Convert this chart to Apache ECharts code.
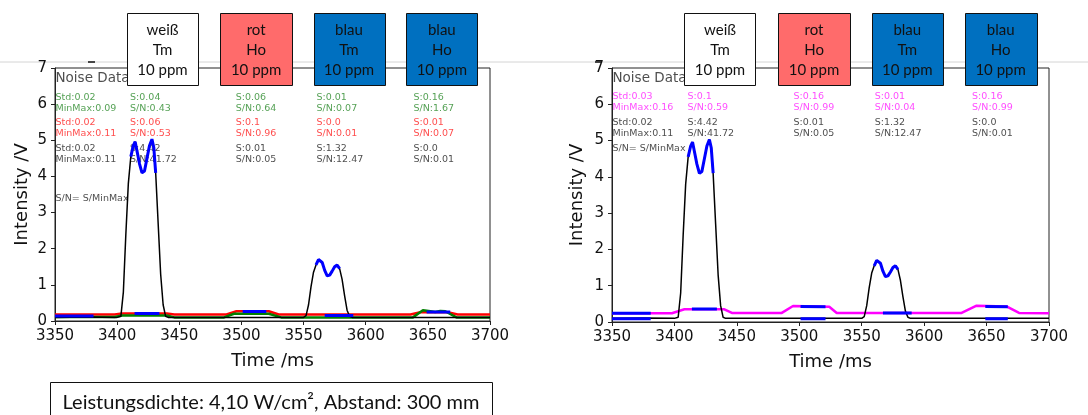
<!DOCTYPE html>
<html>
<head>
<meta charset="utf-8">
<script src="https://cdn.jsdelivr.net/npm/echarts@6/dist/echarts.min.js"></script>
<style>html,body{margin:0;padding:0;background:#fff}#c{width:1088px;height:415px}</style>
</head>
<body>
<div id="c"></div>
<script>
// ---------- data ----------
const xMin = 3350, xMax = 3700, xStep = 50;
const yMin = 0, yMax = 7, yStep = 1;

// black signal (same measurement in both panels)
const blackSignal = [[3350,0.1],[3375,0.11],[3400,0.1],[3403,0.13],[3405,0.8],[3407,2.4],[3409,3.8],[3411,4.55],[3413,4.85],[3414.5,4.96],[3416,4.7],[3418,4.35],[3420,4.1],[3422,4.15],[3424,4.5],[3426,4.85],[3428,5.03],[3429.5,4.8],[3431,4.1],[3433,2.7],[3435,1.3],[3437,0.45],[3439,0.13],[3441,0.1],[3500,0.1],[3550,0.1],[3552,0.15],[3554,0.45],[3556,0.95],[3558,1.35],[3560,1.55],[3562,1.7],[3563.5,1.74],[3565,1.62],[3567,1.4],[3569,1.25],[3571,1.27],[3573,1.38],[3575,1.5],[3577,1.55],[3579,1.45],[3581,1.15],[3583,0.7],[3585,0.3],[3587,0.13],[3589,0.1],[3700,0.1]];
const redLeft = [[3350,0.18],[3398,0.18],[3404,0.21],[3440,0.21],[3446,0.18],[3488,0.18],[3496,0.27],[3522,0.27],[3530,0.18],[3636,0.18],[3644,0.24],[3666,0.24],[3674,0.18],[3700,0.18]];
const greenLeft = [[3350,0.11],[3398,0.11],[3404,0.15],[3440,0.15],[3446,0.1],[3486,0.1],[3494,0.2],[3522,0.2],[3532,0.1],[3638,0.1],[3646,0.3],[3652,0.27],[3656,0.25],[3660,0.28],[3664,0.27],[3673,0.1],[3700,0.1]];
const magentaRight = [[3350,0.24],[3398,0.24],[3408,0.35],[3440,0.35],[3446,0.25],[3486,0.25],[3495,0.44],[3524,0.42],[3530,0.25],[3630,0.25],[3642,0.45],[3666,0.43],[3676,0.25],[3700,0.24]];

// blue evaluation windows (low parts) and peak windows on black signal
const blueLeftLow = [
  [[3350,0.14],[3381,0.14]],
  [[3414,0.21],[3434,0.21]],
  [[3501,0.26],[3520,0.26]],
  [[3567,0.15],[3590,0.15]],
  [[3649,0.25],[3668,0.25]]
];
const blueRightLow = [
  [[3350,0.24],[3381,0.24]], [[3350,0.09],[3381,0.09]],
  [[3414,0.36],[3434,0.36]],
  [[3501,0.43],[3521,0.42]], [[3501,0.09],[3521,0.09]],
  [[3567,0.25],[3590,0.25]],
  [[3649,0.43],[3667,0.42]], [[3649,0.09],[3667,0.09]]
];
const peakWindows = [[3411,3431],[3559,3580]];

// annotation texts
const annotX = [3350, 3410, 3495, 3560, 3638];
const leftGreenText = ['Std:0.02\nMinMax:0.09','S:0.04\nS/N:0.43','S:0.06\nS/N:0.64','S:0.01\nS/N:0.07','S:0.16\nS/N:1.67'];
const leftRedText = ['Std:0.02\nMinMax:0.11','S:0.06\nS/N:0.53','S:0.1\nS/N:0.96','S:0.0\nS/N:0.01','S:0.01\nS/N:0.07'];
const blackText = ['Std:0.02\nMinMax:0.11','S:4.42\nS/N:41.72','S:0.01\nS/N:0.05','S:1.32\nS/N:12.47','S:0.0\nS/N:0.01'];
const rightMagentaText = ['Std:0.03\nMinMax:0.16','S:0.1\nS/N:0.59','S:0.16\nS/N:0.99','S:0.01\nS/N:0.04','S:0.16\nS/N:0.99'];

const boxLabels = ['weiß\nTm\n10 ppm','rot\nHo\n10 ppm','blau\nTm\n10 ppm','blau\nHo\n10 ppm'];
const boxColors = ['#ffffff','#ff6b6b','#0070c0','#0070c0'];
const boxRanges = [[3408,3465],[3483,3540.6],[3558,3615],[3632.5,3690]];
const footText = 'Leistungsdichte: 4,10 W/cm², Abstand: 300 mm';

// ---------- chart ----------
const chart = echarts.init(document.getElementById('c'));
const tickFont = 'DejaVu Sans';

function xAxisDef(gi){
  return {type:'value', gridIndex:gi, min:xMin, max:xMax, interval:xStep,
    name:'Time /ms', nameLocation:'middle', nameGap:31,
    nameTextStyle:{fontSize:18, fontFamily:tickFont, color:'#111'},
    axisLine:{lineStyle:{color:'#222', width:1}},
    axisTick:{length:4, lineStyle:{color:'#222'}},
    axisLabel:{fontSize:15, fontFamily:tickFont, color:'#111', margin:8, formatter:v => String(v)},
    splitLine:{show:false}};
}
function yAxisDef(gi, gap){
  return {type:'value', gridIndex:gi, min:yMin, max:yMax, interval:yStep,
    name:'Intensity /V', nameLocation:'middle', nameGap:gap,
    nameTextStyle:{fontSize:18, fontFamily:tickFont, color:'#111'},
    axisLine:{show:true, lineStyle:{color:'#222', width:1}},
    axisTick:{show:true, length:4, lineStyle:{color:'#222'}},
    axisLabel:{fontSize:15, fontFamily:tickFont, color:'#111', margin:8, formatter:v => String(v)},
    splitLine:{show:false}};
}
function line(gi, data, color, width, z){
  return {type:'line', xAxisIndex:gi, yAxisIndex:gi, data:data, symbol:'none', showSymbol:false,
    lineStyle:{color:color, width:width}, z:z, silent:true, animation:false};
}
function inWindows(data, wins){
  return wins.map(w => data.filter(p => p[0] >= w[0] && p[0] <= w[1]));
}
function annot(gi, xs, y, texts, color, size){
  return {type:'scatter', xAxisIndex:gi, yAxisIndex:gi, symbolSize:1, z:1, silent:true,
    itemStyle:{color:'rgba(0,0,0,0)'},
    label:{show:true, position:'right', distance:0, color:color, fontSize:size||9.5, fontFamily:tickFont, lineHeight:11},
    data: xs.map((x,i)=>({value:[x,y], label:{formatter:texts[i]}}))};
}

const series = [];
// left panel
series.push(line(0, redLeft, '#ff0000', 2.5, 3));
series.push(line(0, greenLeft, '#008000', 2.5, 4));
series.push(line(0, blackSignal, '#000000', 1.5, 5));
blueLeftLow.concat(inWindows(blackSignal, peakWindows)).forEach(seg => series.push(line(0, seg, '#0000ff', 3, 6)));
series.push(annot(0, [3350], 6.70, ['Noise Data'], '#222', 13.5));
series.push(annot(0, annotX, 6.04, leftGreenText, '#2a8a2a'));
series.push(annot(0, annotX, 5.33, leftRedText, '#ff2020'));
series.push(annot(0, annotX, 4.63, blackText, '#222'));
series.push(annot(0, [3350], 3.38, ['S/N= S/MinMax'], '#222'));
// right panel
series.push(line(1, magentaRight, '#ff00ff', 2.5, 3));
series.push(line(1, blackSignal, '#000000', 1.5, 5));
blueRightLow.concat(inWindows(blackSignal, peakWindows)).forEach(seg => series.push(line(1, seg, '#0000ff', 3, 6)));
series.push(annot(1, [3350], 6.70, ['Noise Data'], '#222', 13.5));
series.push(annot(1, annotX, 6.05, rightMagentaText, '#ff22ff'));
series.push(annot(1, annotX, 5.34, blackText, '#222'));
series.push(annot(1, [3350], 4.77, ['S/N= S/MinMax'], '#222'));

chart.setOption({
  animation:false,
  grid:[
    {left:55, top:68, width:435, height:253, show:true, borderColor:'#222', borderWidth:1, backgroundColor:'transparent'},
    {left:612, top:68, width:437, height:254, show:true, borderColor:'#222', borderWidth:1, backgroundColor:'transparent'}
  ],
  xAxis:[xAxisDef(0), xAxisDef(1)],
  yAxis:[yAxisDef(0,24), yAxisDef(1,26)],
  series:series
});

// overlay graphics: boxes above each panel, header line, footer box
const g = [];
g.push({type:'line', shape:{x1:0,y1:62,x2:1088,y2:62}, style:{stroke:'#d4d4d4', lineWidth:1}, z:0});
[[88,95],[595,602]].forEach(d => g.push({type:'line', shape:{x1:d[0],y1:62,x2:d[1],y2:62}, style:{stroke:'#111', lineWidth:1.5}, z:10}));
[0,1].forEach(gi => {
  boxRanges.forEach((r,i) => {
    const x0 = chart.convertToPixel({xAxisIndex:gi}, r[0]);
    const x1 = chart.convertToPixel({xAxisIndex:gi}, r[1]);
    g.push({type:'rect', shape:{x:Math.round(x0)+0.5, y:13.5, width:Math.round(x1-x0), height:72},
      style:{fill:boxColors[i], stroke:'#111', lineWidth:1}, z:20});
    g.push({type:'text', x:(x0+x1)/2, y:50, z:21,
      style:{text:boxLabels[i], font:'15px Lato', fill:'#111', align:'center', verticalAlign:'middle', lineHeight:20}});
  });
});
g.push({type:'rect', shape:{x:50.5, y:382.5, width:442, height:40}, style:{fill:'#fff', stroke:'#111', lineWidth:1}, z:20});
g.push({type:'text', x:271, y:403, z:21, style:{text:footText, font:'20px Lato', fill:'#111', align:'center', verticalAlign:'middle'}});
chart.setOption({graphic:g});
</script>
</body>
</html>
